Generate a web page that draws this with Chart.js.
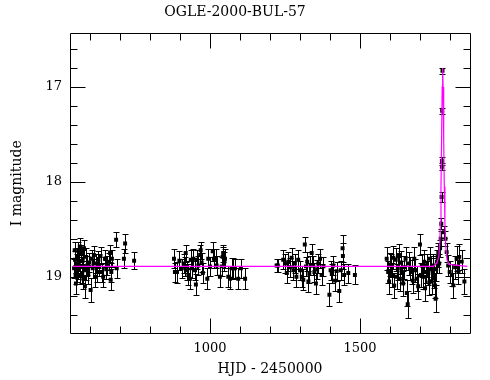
<!DOCTYPE html>
<html>
<head>
<meta charset="utf-8">
<title>OGLE-2000-BUL-57</title>
<script src="https://cdn.jsdelivr.net/npm/chart.js@4.4.0/dist/chart.umd.min.js"></script>
<style>
  html, body { margin: 0; padding: 0; background: #fff; }
</style>
</head>
<body>
<canvas id="lightCurve" width="490" height="380"></canvas>
<script>
// photometry, one set of arrays per observing season (HJD - 2450000, I mag, error)
const season1Hjd = [547, 549, 550, 552, 553, 555, 556, 558, 560, 561, 564, 566, 567, 570, 572, 574, 576, 578, 580, 583, 585, 587, 591, 594, 598, 602, 606, 609, 613, 617, 620, 624, 628, 631, 635, 639, 644, 650, 654, 658, 664, 667, 669, 671, 673, 687, 689, 713, 717, 747];
const season1Mag = [18.91, 18.72, 18.82, 18.98, 19.07, 18.86, 18.95, 18.79, 18.92, 18.72, 18.84, 18.68, 18.98, 18.75, 18.89, 18.96, 18.81, 19.02, 18.70, 19.10, 18.93, 18.79, 18.88, 18.98, 18.85, 19.14, 18.81, 18.91, 18.77, 19.00, 18.86, 18.95, 18.82, 18.89, 18.78, 18.95, 19.00, 18.81, 18.92, 18.88, 18.84, 18.75, 19.03, 18.95, 18.81, 18.61, 18.91, 18.81, 18.65, 18.83];
const season1Err = [0.10, 0.09, 0.09, 0.10, 0.11, 0.10, 0.10, 0.09, 0.10, 0.09, 0.10, 0.09, 0.10, 0.09, 0.10, 0.10, 0.09, 0.11, 0.09, 0.12, 0.10, 0.09, 0.10, 0.10, 0.10, 0.13, 0.09, 0.10, 0.09, 0.11, 0.10, 0.10, 0.09, 0.10, 0.09, 0.10, 0.11, 0.09, 0.10, 0.10, 0.09, 0.09, 0.11, 0.10, 0.09, 0.08, 0.10, 0.10, 0.10, 0.09];

const season2Hjd = [880, 883, 890, 898, 906, 912, 917, 919, 924, 928, 933, 936, 939, 944, 950, 953, 956, 961, 967, 969, 972, 976, 991, 994, 1000, 1009, 1013, 1019, 1022, 1033, 1039, 1042, 1044, 1048, 1050, 1061, 1067, 1072, 1078, 1083, 1094, 1103, 1117];
const season2Mag = [18.81, 18.95, 18.95, 18.83, 18.91, 18.86, 18.89, 18.75, 18.93, 18.98, 19.02, 18.82, 18.91, 18.81, 18.93, 19.08, 18.82, 18.88, 18.77, 18.72, 18.85, 18.96, 19.02, 18.81, 18.89, 18.73, 18.81, 18.81, 18.88, 19.00, 18.89, 18.79, 18.75, 18.84, 18.81, 19.00, 19.02, 18.91, 18.91, 18.91, 19.02, 18.91, 19.02];
const season2Err = [0.10, 0.10, 0.11, 0.10, 0.10, 0.10, 0.10, 0.09, 0.10, 0.11, 0.11, 0.10, 0.10, 0.10, 0.10, 0.11, 0.10, 0.10, 0.10, 0.09, 0.10, 0.11, 0.11, 0.10, 0.10, 0.10, 0.10, 0.10, 0.10, 0.11, 0.10, 0.10, 0.09, 0.10, 0.10, 0.11, 0.11, 0.11, 0.11, 0.10, 0.11, 0.10, 0.11];

const season3Hjd = [1222, 1226, 1244, 1250, 1256, 1261, 1266, 1272, 1278, 1283, 1288, 1294, 1300, 1306, 1311, 1316, 1320, 1324, 1328, 1331, 1335, 1339, 1344, 1348, 1353, 1357, 1361, 1367, 1372, 1378, 1398, 1402, 1406, 1411, 1417, 1422, 1431, 1436, 1442, 1443, 1447, 1461, 1483];
const season3Mag = [18.88, 18.88, 18.82, 18.86, 18.96, 18.84, 18.90, 18.80, 18.93, 18.86, 19.00, 18.82, 18.93, 19.00, 19.03, 18.66, 18.89, 18.84, 19.05, 18.96, 18.88, 18.75, 18.88, 18.95, 19.07, 18.92, 18.86, 18.81, 18.98, 18.89, 19.19, 18.93, 18.97, 18.88, 19.04, 18.94, 19.15, 18.93, 18.70, 18.78, 18.98, 18.96, 18.98];
const season3Err = [0.07, 0.07, 0.10, 0.10, 0.11, 0.10, 0.10, 0.10, 0.10, 0.10, 0.11, 0.10, 0.10, 0.11, 0.11, 0.08, 0.10, 0.10, 0.11, 0.11, 0.10, 0.10, 0.10, 0.10, 0.11, 0.10, 0.10, 0.10, 0.11, 0.10, 0.12, 0.10, 0.10, 0.10, 0.11, 0.10, 0.12, 0.10, 0.14, 0.14, 0.11, 0.10, 0.10];

const season4Hjd = [1589, 1594, 1597, 1600, 1603, 1608, 1611, 1614, 1619, 1622, 1626, 1630, 1633, 1636, 1639, 1644, 1648, 1652, 1656, 1659, 1663, 1667, 1672, 1676, 1681, 1685, 1689, 1694, 1700, 1703, 1706, 1711, 1714, 1717, 1720, 1722, 1728, 1731, 1733, 1736, 1739, 1742, 1744, 1747, 1750, 1752, 1754, 1756, 1759, 1761, 1764, 1767, 1769, 1771, 1772, 1773, 1773, 1774, 1775, 1779, 1785, 1789, 1794, 1799, 1806, 1811, 1817, 1822, 1828, 1831, 1839, 1848];
const season4Mag = [18.81, 18.95, 19.05, 18.87, 18.88, 18.98, 18.80, 19.09, 18.82, 19.00, 18.91, 18.77, 19.02, 18.85, 18.95, 19.07, 18.90, 18.81, 19.17, 19.29, 18.86, 18.91, 18.95, 19.04, 18.81, 18.93, 19.02, 19.10, 18.66, 18.98, 18.88, 19.00, 18.84, 19.12, 18.95, 18.88, 18.96, 19.06, 18.81, 18.92, 19.05, 18.90, 18.88, 18.99, 19.09, 19.23, 18.92, 18.84, 18.79, 18.74, 18.86, 18.70, 18.60, 18.44, 18.16, 17.84, 17.78, 17.25, 16.83, 18.53, 18.60, 18.74, 18.88, 18.95, 18.98, 19.09, 18.90, 18.81, 18.95, 18.79, 18.84, 19.05];
const season4Err = [0.12, 0.12, 0.13, 0.12, 0.12, 0.13, 0.12, 0.13, 0.12, 0.13, 0.12, 0.12, 0.13, 0.12, 0.12, 0.13, 0.12, 0.12, 0.14, 0.14, 0.12, 0.12, 0.13, 0.13, 0.12, 0.12, 0.13, 0.13, 0.11, 0.13, 0.12, 0.13, 0.12, 0.14, 0.12, 0.12, 0.13, 0.13, 0.12, 0.12, 0.13, 0.12, 0.12, 0.13, 0.13, 0.14, 0.12, 0.12, 0.11, 0.10, 0.10, 0.09, 0.08, 0.06, 0.05, 0.04, 0.04, 0.03, 0.03, 0.06, 0.08, 0.10, 0.11, 0.12, 0.12, 0.13, 0.12, 0.13, 0.13, 0.14, 0.12, 0.13];

// fitted microlensing curve
const modelHjd = [543, 1745, 1757, 1763, 1766, 1768, 1770, 1772, 1774, 1775.5, 1777, 1779, 1781, 1783, 1786, 1790, 1797, 1858];
const modelMag = [18.89, 18.89, 18.85, 18.78, 18.65, 18.42, 18.05, 17.55, 17.0, 16.80, 17.0, 17.55, 18.05, 18.42, 18.68, 18.82, 18.87, 18.89];

// axis ticks
const xMajor = [1000, 1500];
const xMinor = [600, 700, 800, 900, 1100, 1200, 1300, 1400, 1600, 1700, 1800];
const yMajor = [17, 18, 19];
const yMinor = [16.6, 16.8, 17.2, 17.4, 17.6, 17.8, 18.2, 18.4, 18.6, 18.8, 19.2, 19.4];

const serif = 'DejaVu Serif';

const toPoints = (xs, ys) => xs.map((v, i) => ({ x: v, y: ys[i] }));

const seasonSet = (hjd, mag, err) => ({
  data: toPoints(hjd, mag),
  errors: err,
  pointStyle: 'rect',
  pointRadius: 2.8,
  backgroundColor: '#000',
  borderWidth: 0,
  showLine: false,
  order: 1,
});

// vertical error bars with small caps, under the points
const errorBars = {
  id: 'errorBars',
  beforeDatasetsDraw(chart) {
    const { ctx, scales: { x, y } } = chart;
    ctx.save();
    ctx.strokeStyle = '#000';
    ctx.lineWidth = 1;
    ctx.beginPath();
    chart.data.datasets.forEach((ds) => {
      if (!ds.errors) return;
      ds.data.forEach((p, i) => {
        const px = Math.round(x.getPixelForValue(p.x)) + 0.5;
        const y1 = Math.round(y.getPixelForValue(p.y - ds.errors[i])) + 0.5;
        const y2 = Math.round(y.getPixelForValue(p.y + ds.errors[i])) + 0.5;
        ctx.moveTo(px, y1); ctx.lineTo(px, y2);
        ctx.moveTo(px - 3, y1); ctx.lineTo(px + 3, y1);
        ctx.moveTo(px - 3, y2); ctx.lineTo(px + 3, y2);
      });
    });
    ctx.stroke();
    ctx.restore();
  }
};

// box frame with inward ticks on all four sides
const frameTicks = {
  id: 'frameTicks',
  afterDraw(chart) {
    const { ctx, chartArea: a, scales: { x, y } } = chart;
    const l = Math.round(a.left) + 0.5, r = Math.round(a.right) + 0.5;
    const t = Math.round(a.top) + 0.5, b = Math.round(a.bottom) + 0.5;
    ctx.save();
    ctx.strokeStyle = '#000';
    ctx.lineWidth = 1;
    ctx.beginPath();
    ctx.rect(l, t, r - l, b - t);
    const xTick = (v, len) => {
      const px = Math.round(x.getPixelForValue(v)) + 0.5;
      ctx.moveTo(px, t); ctx.lineTo(px, t + len);
      ctx.moveTo(px, b); ctx.lineTo(px, b - len);
    };
    const yTick = (v, len) => {
      const py = Math.round(y.getPixelForValue(v)) + 0.5;
      ctx.moveTo(l, py); ctx.lineTo(l + len, py);
      ctx.moveTo(r, py); ctx.lineTo(r - len, py);
    };
    xMajor.forEach(v => xTick(v, 15));
    xMinor.forEach(v => xTick(v, 7));
    yMajor.forEach(v => yTick(v, 15));
    yMinor.forEach(v => yTick(v, 7));
    ctx.stroke();
    ctx.restore();
  }
};

new Chart(document.getElementById('lightCurve'), {
  type: 'scatter',
  data: {
    datasets: [
      {
        data: toPoints(modelHjd, modelMag),
        showLine: true,
        borderColor: '#ff00ff',
        borderWidth: 1.2,
        pointRadius: 0,
        tension: 0,
        order: 0,
      },
      seasonSet(season1Hjd, season1Mag, season1Err),
      seasonSet(season2Hjd, season2Mag, season2Err),
      seasonSet(season3Hjd, season3Mag, season3Err),
      seasonSet(season4Hjd, season4Mag, season4Err),
    ]
  },
  options: {
    responsive: false,
    animation: false,
    layout: { padding: { top: 0, right: 20, bottom: 0, left: 0 } },
    plugins: {
      legend: { display: false },
      tooltip: { enabled: false },
      title: {
        display: true,
        text: 'OGLE-2000-BUL-57',
        color: '#000',
        font: { family: serif, size: 14, weight: 'normal' },
        padding: { top: 4, bottom: 12.5 }
      }
    },
    scales: {
      x: {
        type: 'linear',
        min: 533.3,
        max: 1866.7,
        grid: { display: false, drawTicks: false },
        border: { display: false },
        afterBuildTicks: (s) => { s.ticks = xMajor.map(v => ({ value: v })); },
        afterFit: (s) => { s.height = 46.7; },
        ticks: {
          color: '#000',
          font: { family: serif, size: 13 },
          padding: 8,
          maxRotation: 0,
          callback: (v) => String(v)
        },
        title: {
          display: true,
          text: 'HJD - 2450000',
          color: '#000',
          font: { family: serif, size: 14 },
          padding: { top: 0, bottom: 2 }
        }
      },
      y: {
        reverse: true,
        min: 16.435,
        max: 19.595,
        grid: { display: false, drawTicks: false },
        border: { display: false },
        afterBuildTicks: (s) => { s.ticks = yMajor.map(v => ({ value: v })); },
        afterFit: (s) => { s.width = 70; },
        ticks: {
          color: '#000',
          font: { family: serif, size: 13 },
          padding: 8,
          callback: (v) => String(v)
        },
        title: {
          display: true,
          text: 'I magnitude',
          color: '#000',
          font: { family: serif, size: 14 },
          padding: { top: 9, bottom: 0 }
        }
      }
    }
  },
  plugins: [errorBars, frameTicks]
});
</script>
</body>
</html>
